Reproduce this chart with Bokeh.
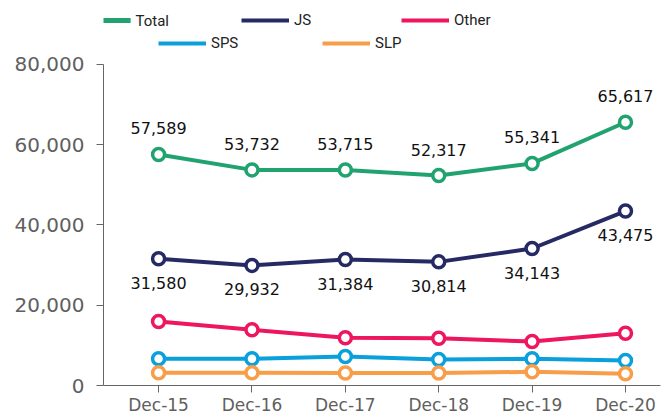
from bokeh.plotting import figure
from bokeh.models import (ColumnDataSource, Legend, LegendItem, FixedTicker, Range1d,
                          NumeralTickFormatter, LabelSet, Label)
from bokeh.core.properties import value
from bokeh.embed import file_html
from bokeh.resources import INLINE

categories = ["Dec-15", "Dec-16", "Dec-17", "Dec-18", "Dec-19", "Dec-20"]
total = [57589, 53732, 53715, 52317, 55341, 65617]
js = [31580, 29932, 31384, 30814, 34143, 43475]
other = [15950, 13880, 11890, 11790, 10970, 13030]
sps = [6650, 6650, 7230, 6480, 6650, 6230]
slp = [3160, 3160, 3100, 3100, 3410, 2910]

series = [("Total", total, "#21a36f"), ("JS", js, "#252a64"), ("Other", other, "#ee165f"),
          ("SPS", sps, "#0aa0dc"), ("SLP", slp, "#f89d48")]

x = list(range(len(categories)))

p = figure(width=662, height=420, min_border_left=103, min_border_right=2,
           min_border_top=0, min_border_bottom=35,
           output_backend="svg", toolbar_location=None,
           x_range=Range1d(-0.59, 5.375), y_range=Range1d(0, 95950))
p.outline_line_color = None
p.grid.visible = False
p.background_fill_color = "white"

renderers = {}
for name, vals, color in series:
    src = ColumnDataSource(dict(x=x, y=vals))
    l = p.line("x", "y", source=src, line_color=color, line_width=4)
    p.scatter("x", "y", source=src, size=12, fill_color="white", line_color=color, line_width=3.5)
    renderers[name] = [l]

lab_font = "DejaVu Sans"
src_t = ColumnDataSource(dict(x=x, y=total, t=[f"{v:,}" for v in total]))
p.add_layout(LabelSet(x="x", y="y", text="t", source=src_t, text_align="center", text_baseline="middle",
                      y_offset=26, text_font=value(lab_font), text_font_size=value("16px"),
                      text_color="#111111"))
src_j = ColumnDataSource(dict(x=x, y=js, t=[f"{v:,}" for v in js]))
p.add_layout(LabelSet(x="x", y="y", text="t", source=src_j, text_align="center", text_baseline="middle",
                      y_offset=-24, text_font=value(lab_font), text_font_size=value("16px"),
                      text_color="#111111"))

p.xaxis.ticker = FixedTicker(ticks=x)
p.xaxis.major_label_overrides = {i: c for i, c in enumerate(categories)}
p.yaxis.ticker = FixedTicker(ticks=[0, 20000, 40000, 60000, 80000])
p.yaxis.formatter = NumeralTickFormatter(format="0,0")
p.yaxis.bounds = (0, 80000)
for ax in (p.xaxis, p.yaxis):
    ax.axis_line_color = "#666666"
    ax.major_tick_line_color = "#666666"
    ax.minor_tick_line_color = None
    ax.major_label_text_font = lab_font
    ax.major_label_text_color = "#606060"
    ax.major_tick_in = 0
p.xaxis.major_label_text_font_size = "17px"
p.yaxis.major_label_text_font_size = "20px"
p.xaxis.major_tick_out = 7
p.yaxis.major_tick_out = 7
p.yaxis.major_label_standoff = 12
p.xaxis.major_label_standoff = 2

# legend: one item per legend so each sits where the reference puts it
leg_font = "Roboto"
leg_pos = {"JS": (138, 356), "Other": (298, 356), "SPS": (55, 333), "SLP": (219, 333)}
for name, _, _ in series[1:]:
    lg = Legend(items=[LegendItem(label=name, renderers=renderers[name])],
                location=leg_pos[name], border_line_color=None,
                background_fill_alpha=0, label_text_font=leg_font, label_text_font_size="15px",
                label_text_color="#222222", glyph_width=48, glyph_height=18, label_height=18,
                padding=0, margin=0, label_standoff=5)
    p.add_layout(lg, "center")

# the "Total" entry sits left of the plot frame, where a Legend cannot go:
# its swatch is an (unclipped) label background, its text a plain label
p.add_layout(Label(x=3, y=365, x_units="screen", y_units="screen", text=" ",
                   text_align="center", text_baseline="middle", text_font_size="1px",
                   background_fill_color=series[0][2], background_fill_alpha=1,
                   padding=dict(left=24, right=24, top=2, bottom=2)))
p.add_layout(Label(x=32, y=365, x_units="screen", y_units="screen", text=series[0][0],
                   text_baseline="middle", text_font=leg_font, text_font_size="15px",
                   text_color="#222222"))

open("out.html", "w").write(file_html(p, INLINE))
